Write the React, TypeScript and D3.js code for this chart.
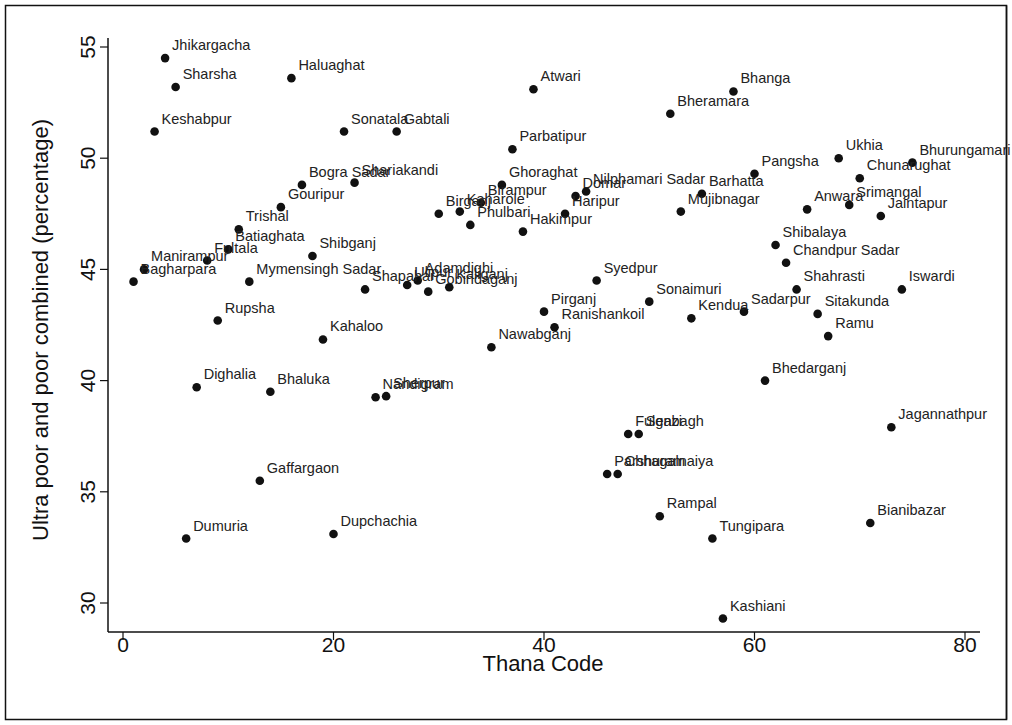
import React, { useEffect, useRef } from 'react';
import * as d3 from 'd3';

const thanaNames = [
  "Jhikargacha", "Sharsha", "Keshabpur", "Haluaghat", "Sonatala", "Gabtali",
  "Atwari", "Bheramara", "Bhanga", "Parbatipur", "Ghoraghat", "Birganj",
  "Kaharole", "Birampur", "Phulbari", "Hakimpur", "Haripur", "Domar",
  "Nilphamari Sadar", "Mujibnagar", "Barhatta", "Pangsha", "Ukhia", "Bhurungamari",
  "Chunarughat", "Anwara", "Srimangal", "Jaintapur", "Shibalaya", "Chandpur Sadar",
  "Shahrasti", "Iswardi", "Sadarpur", "Kendua", "Sitakunda", "Ramu",
  "Bhedarganj", "Sonaimuri", "Syedpur", "Pirganj", "Ranishankoil", "Nawabganj",
  "Shapahar", "Ulipur", "Adamdighi", "Gobindaganj", "Kaliganj", "Mymensingh Sadar",
  "Shibganj", "Rupsha", "Kahaloo", "Dighalia", "Bhaluka", "Bagharpara",
  "Manirampur", "Fultala", "Batiaghata", "Trishal", "Gouripur", "Bogra Sadar",
  "Shariakandi", "Nandigram", "Sherpur", "Gaffargaon", "Dumuria", "Dupchachia",
  "Fulgazi", "Senbagh", "Parshuram", "Chhagalnaiya", "Rampal", "Tungipara",
  "Kashiani", "Jagannathpur", "Bianibazar",
];

const thanaCodes = [
  4, 5, 3, 16, 21, 26,
  39, 52, 58, 37, 36, 30,
  32, 34, 33, 38, 42, 43,
  44, 53, 55, 60, 68, 75,
  70, 65, 69, 72, 62, 63,
  64, 74, 59, 54, 66, 67,
  61, 50, 45, 40, 41, 35,
  23, 27, 28, 29, 31, 12,
  18, 9, 19, 7, 14, 1,
  2, 8, 10, 11, 15, 17,
  22, 24, 25, 13, 6, 20,
  48, 49, 46, 47, 51, 56,
  57, 73, 71,
];

const poorPct = [
  54.5, 53.2, 51.2, 53.6, 51.2, 51.2,
  53.1, 52.0, 53.0, 50.4, 48.8, 47.5,
  47.6, 48.0, 47.0, 46.7, 47.5, 48.3,
  48.5, 47.6, 48.4, 49.3, 50.0, 49.8,
  49.1, 47.7, 47.9, 47.4, 46.1, 45.3,
  44.1, 44.1, 43.1, 42.8, 43.0, 42.0,
  40.0, 43.55, 44.5, 43.1, 42.4, 41.5,
  44.1, 44.3, 44.5, 44.0, 44.2, 44.45,
  45.6, 42.7, 41.85, 39.7, 39.5, 44.45,
  45.0, 45.4, 45.9, 46.8, 47.8, 48.8,
  48.9, 39.25, 39.3, 35.5, 32.9, 33.1,
  37.6, 37.6, 35.8, 35.8, 33.9, 32.9,
  29.3, 37.9, 33.6,
];

const xTicks = [0, 20, 40, 60, 80];
const yTicks = [30, 35, 40, 45, 50, 55];

const W = 1012;
const H = 725;
const font = "'Liberation Sans', Arial, Helvetica, sans-serif";

const App = () => {
  const svgRef = useRef(null);

  useEffect(() => {
    const svg = d3.select(svgRef.current);
    svg.selectAll("*").remove();

    const x = d3.scaleLinear().domain([0, 80]).range([123, 965]);
    const y = d3.scaleLinear().domain([30, 55]).range([603, 47]);

    const axisX = 108;
    const axisY = 632;

    // outer frame
    svg.append("rect")
      .attr("x", 5.5).attr("y", 5.5)
      .attr("width", W - 11).attr("height", H - 11)
      .attr("fill", "white")
      .attr("stroke", "#111")
      .attr("stroke-width", 1.5);

    // axis lines
    svg.append("line")
      .attr("x1", axisX).attr("x2", axisX)
      .attr("y1", 38).attr("y2", axisY)
      .attr("stroke", "#111").attr("stroke-width", 1.5);
    svg.append("line")
      .attr("x1", axisX).attr("x2", 980)
      .attr("y1", axisY).attr("y2", axisY)
      .attr("stroke", "#111").attr("stroke-width", 1.5);

    // y ticks
    svg.selectAll(".ytick")
      .data(yTicks)
      .enter().append("line")
      .attr("x1", axisX - 8).attr("x2", axisX)
      .attr("y1", d => y(d)).attr("y2", d => y(d))
      .attr("stroke", "#111").attr("stroke-width", 1.2);

    svg.selectAll(".ylab")
      .data(yTicks)
      .enter().append("text")
      .attr("transform", d => `translate(95,${y(d)}) rotate(-90)`)
      .attr("text-anchor", "middle")
      .attr("font-family", font)
      .attr("font-size", 21)
      .attr("fill", "#111")
      .text(d => d);

    // x ticks
    svg.selectAll(".xtick")
      .data(xTicks)
      .enter().append("line")
      .attr("x1", d => x(d)).attr("x2", d => x(d))
      .attr("y1", axisY).attr("y2", axisY + 8)
      .attr("stroke", "#111").attr("stroke-width", 1.2);

    svg.selectAll(".xlab")
      .data(xTicks)
      .enter().append("text")
      .attr("x", d => x(d))
      .attr("y", axisY + 20)
      .attr("text-anchor", "middle")
      .attr("font-family", font)
      .attr("font-size", 21)
      .attr("fill", "#111")
      .text(d => d);

    // axis titles
    svg.append("text")
      .attr("x", 543).attr("y", 671)
      .attr("text-anchor", "middle")
      .attr("font-family", font)
      .attr("font-size", 22)
      .attr("fill", "#111")
      .text("Thana Code");

    svg.append("text")
      .attr("transform", "translate(48,330) rotate(-90)")
      .attr("text-anchor", "middle")
      .attr("font-family", font)
      .attr("font-size", 22)
      .attr("fill", "#111")
      .text("Ultra poor and poor combined (percentage)");

    const pts = thanaNames.map((name, i) => ({ name, code: thanaCodes[i], pct: poorPct[i] }));

    svg.selectAll(".dot")
      .data(pts)
      .enter().append("circle")
      .attr("cx", d => x(d.code))
      .attr("cy", d => y(d.pct))
      .attr("r", 4.3)
      .attr("fill", "#111");

    svg.selectAll(".lbl")
      .data(pts)
      .enter().append("text")
      .attr("x", d => x(d.code) + 7)
      .attr("y", d => y(d.pct) - 8)
      .attr("font-family", font)
      .attr("font-size", 14.5)
      .attr("fill", "#222")
      .text(d => d.name);

    // right edge of the frame clips long labels, as in the scan
    svg.append("line")
      .attr("x1", W - 5.5).attr("x2", W - 5.5)
      .attr("y1", 5.5).attr("y2", H - 5.5)
      .attr("stroke", "#111").attr("stroke-width", 1.5);
  }, []);

  return (
    <svg
      ref={svgRef}
      width={W}
      height={H}
      style={{ position: "absolute", left: 0, top: 0, background: "white" }}
    ></svg>
  );
};

export default App;
